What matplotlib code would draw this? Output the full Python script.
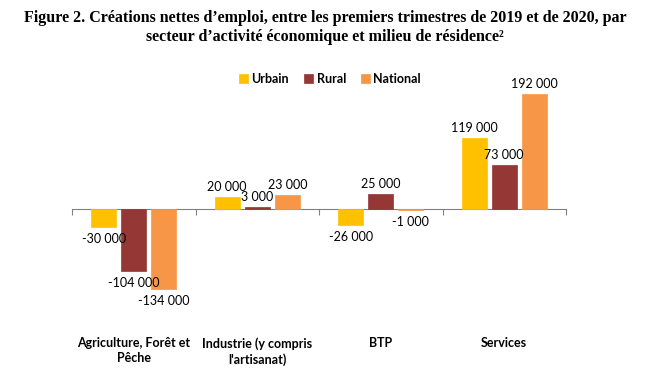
import numpy as np
import matplotlib
matplotlib.use('Agg')
import matplotlib.pyplot as plt
import matplotlib.transforms as mtransforms

categories = ['Agriculture, Forêt et\nPêche', 'Industrie (y compris\nl\'artisanat)', 'BTP', 'Services']
series_names = ['Urbain', 'Rural', 'National']
urbain = [-30000, 20000, -26000, 119000]
rural = [-104000, 3000, 25000, 73000]
national = [-134000, 23000, -1000, 192000]
colors = ['#FFC000', '#953735', '#F79646']


def fmt(v):
    s = '{:,}'.format(abs(v)).replace(',', ' ')
    return ('-' if v < 0 else '') + s


fig = plt.figure(figsize=(6.5, 3.87), dpi=100)
ax = fig.add_axes([72 / 650, 87 / 387, 494 / 650, 240 / 387])

x = np.arange(len(categories))
offsets = [-0.243, 0, 0.243]
px = 402000 / 240  # data units per pixel

for vals, name, col, off in zip([urbain, rural, national], series_names, colors, offsets):
    ax.bar(x + off, vals, width=0.2, color=col, label=name, zorder=4,
           edgecolor=col, linewidth=0.5)
    for xi, v in zip(x, vals):
        if v >= 0:
            ax.text(xi + off, v + 4 * px, fmt(v), ha='center', va='bottom',
                    fontsize=9, family='Lato', zorder=6)
        else:
            ax.text(xi + off, v - 6 * px, fmt(v), ha='center', va='top',
                    fontsize=9, family='Lato', zorder=6)

ax.set_xlim(-0.5, 3.5)
ax.set_ylim(-152400, 249600)
for s in ['top', 'right', 'left']:
    ax.spines[s].set_visible(False)
ax.spines['bottom'].set_position(('data', 0))
ax.spines['bottom'].set_color('#808080')
ax.spines['bottom'].set_zorder(3)
ax.set_yticks([])
ax.set_xticks(np.arange(-0.5, 4, 1))
ax.set_xticklabels([])
ax.tick_params(axis='x', direction='out', length=4, color='#808080')

trans = mtransforms.blended_transform_factory(ax.transData, fig.transFigure)
for xi, c in zip(x, categories):
    ax.text(xi, 1 - 337 / 387, c, ha='center', va='top', transform=trans,
            fontsize=9, family='Lato', fontweight='bold', linespacing=1.3)

leg = fig.legend(loc='center', bbox_to_anchor=(330 / 650, 1 - 79 / 387), ncol=3,
                 frameon=False, handlelength=0.7, handleheight=0.7, handletextpad=0.3,
                 columnspacing=1.2, prop={'family': 'Lato', 'weight': 'bold', 'size': 9})

fig.text(0.5, 1 - 18 / 387, 'Figure 2. Créations nettes d\u2019emploi, entre les premiers trimestres de 2019 et de 2020, par',
         ha='center', va='center', fontsize=11.5, family='Liberation Serif', fontweight='bold')
fig.text(0.5, 1 - 37 / 387, 'secteur d\u2019activité économique et milieu de résidence\u00b2',
         ha='center', va='center', fontsize=11.5, family='Liberation Serif', fontweight='bold')

fig.savefig('out.png', dpi=100)
